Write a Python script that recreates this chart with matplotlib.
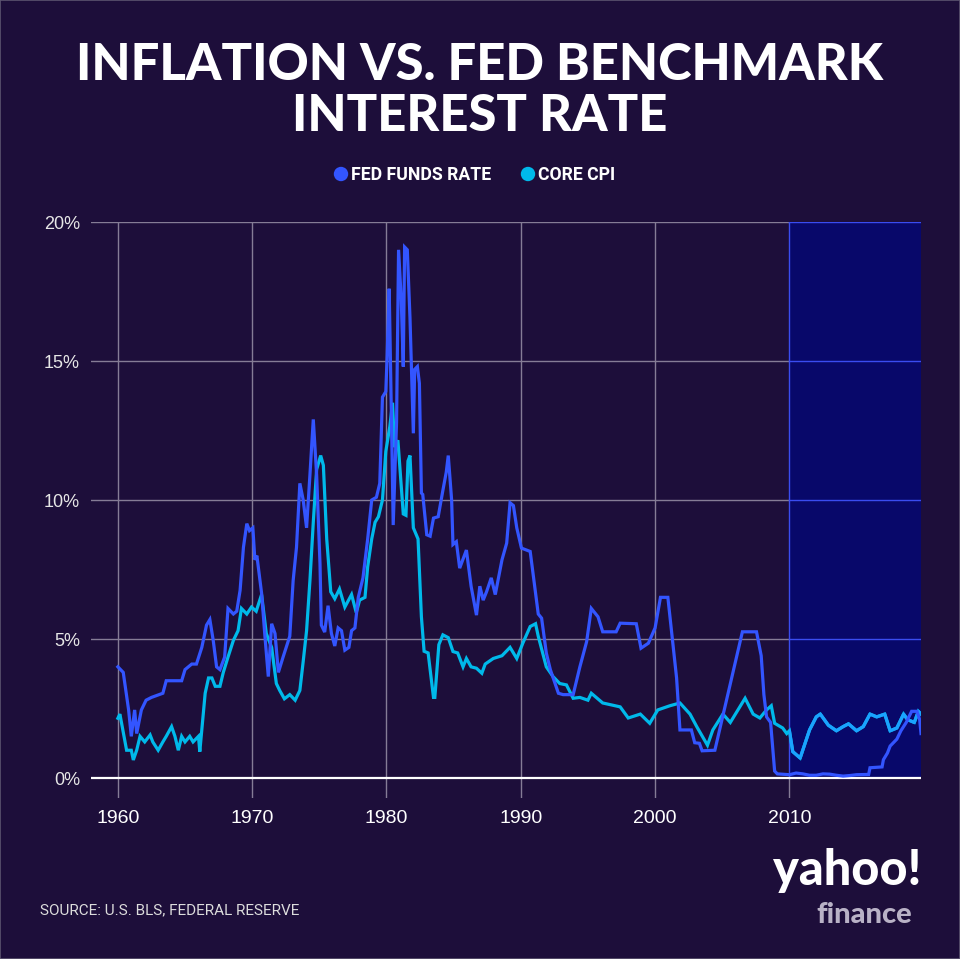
import numpy as np
import matplotlib.pyplot as plt
from matplotlib.patches import Rectangle, Circle

# values (year, percent)
fed_years = [1960.0, 1960.4, 1960.8, 1961.0, 1961.25, 1961.4, 1961.75, 1962.1, 1962.5, 1963.35,
             1963.6, 1964.75, 1965.0, 1965.5, 1965.85, 1966.25, 1966.6, 1966.85, 1967.1, 1967.35,
             1967.6, 1967.95, 1968.2, 1968.6, 1968.85, 1969.1, 1969.35, 1969.6, 1969.8, 1970.05,
             1970.2, 1970.35, 1970.7, 1970.95, 1971.2, 1971.45, 1971.7, 1971.95, 1972.3, 1972.8,
             1973.05, 1973.3, 1973.55, 1973.8, 1974.05, 1974.3, 1974.55, 1974.8, 1975.05, 1975.15,
             1975.4, 1975.65, 1975.9, 1976.15, 1976.4, 1976.65, 1976.9, 1977.2, 1977.4, 1977.65,
             1977.9, 1978.25, 1978.6, 1978.9, 1979.25, 1979.5, 1979.7, 1979.95, 1980.05, 1980.2,
             1980.4, 1980.5, 1980.75, 1980.9, 1981.1, 1981.25, 1981.35, 1981.55, 1981.75, 1982.0,
             1982.1, 1982.3, 1982.45, 1982.6, 1982.7, 1983.0, 1983.25, 1983.5, 1983.85, 1984.2,
             1984.45, 1984.6, 1984.85, 1984.95, 1985.2, 1985.45, 1985.95, 1986.3, 1986.7, 1986.95,
             1987.2, 1987.45, 1987.8, 1988.1, 1988.6, 1988.95, 1989.2, 1989.45, 1989.7, 1990.05,
             1990.7, 1990.9, 1991.3, 1991.55, 1991.9, 1992.2, 1992.8, 1993.15, 1993.9, 1994.4,
             1994.9, 1995.25, 1995.75, 1996.1, 1997.1, 1997.4, 1998.6, 1998.95, 1999.5, 2000.0,
             2000.4, 2000.95, 2001.6, 2001.85, 2002.7, 2002.95, 2003.3, 2003.5, 2004.45, 2006.5,
             2007.55, 2007.9, 2008.1, 2008.3, 2008.6, 2008.9, 2009.1, 2010.0, 2010.5, 2011.0,
             2011.5, 2012.0, 2012.5, 2013.0, 2013.5, 2014.0, 2014.5, 2015.0, 2015.9, 2016.0,
             2016.9, 2017.0, 2017.3, 2017.5, 2018.0, 2018.3, 2018.7, 2019.1, 2019.5, 2019.7, 2019.8]
fed_rate = [4.0, 3.8, 2.45, 1.5, 2.45, 1.6, 2.45, 2.8, 2.9, 3.05,
            3.5, 3.5, 3.9, 4.1, 4.1, 4.7, 5.5, 5.7, 4.95, 4.0,
            3.9, 4.35, 6.1, 5.9, 6.0, 6.75, 8.3, 9.15, 8.9, 9.0,
            7.85, 8.0, 6.65, 5.1, 3.65, 5.55, 5.2, 3.8, 4.35, 5.1,
            7.1, 8.3, 10.6, 10.0, 9.0, 10.9, 12.9, 10.9, 7.7, 5.5,
            5.25, 6.2, 5.2, 4.75, 5.4, 5.3, 4.6, 4.7, 5.3, 5.4,
            6.5, 7.2, 8.6, 10.0, 10.1, 10.6, 13.7, 13.9, 15.2, 17.6,
            12.1, 9.1, 12.8, 19.0, 17.2, 14.8, 19.1, 19.0, 16.55, 12.4,
            14.7, 14.8, 14.2, 10.25, 10.2, 8.75, 8.7, 9.35, 9.4, 10.35,
            11.0, 11.6, 10.0, 8.4, 8.5, 7.55, 8.2, 6.9, 5.86, 6.9,
            6.4, 6.7, 7.2, 6.6, 7.85, 8.45, 9.9, 9.8, 9.0, 8.27,
            8.15, 7.4, 5.9, 5.75, 4.5, 3.9, 3.05, 3.0, 3.0, 4.0,
            4.9, 6.1, 5.8, 5.26, 5.26, 5.57, 5.55, 4.67, 4.85, 5.4,
            6.5, 6.5, 3.6, 1.73, 1.73, 1.27, 1.25, 0.98, 1.0, 5.26,
            5.26, 4.4, 3.0, 2.2, 2.0, 0.25, 0.15, 0.12, 0.18, 0.15,
            0.1, 0.1, 0.15, 0.14, 0.1, 0.07, 0.09, 0.12, 0.13, 0.37,
            0.4, 0.66, 0.9, 1.15, 1.4, 1.7, 2.0, 2.4, 2.4, 2.1, 1.6]

cpi_years = [1960.0, 1960.15, 1960.65, 1961.0, 1961.15, 1961.4, 1961.65, 1962.0, 1962.4, 1962.6,
             1963.0, 1963.35, 1963.6, 1964.0, 1964.25, 1964.5, 1964.75, 1965.0, 1965.35, 1965.6,
             1966.0, 1966.1, 1966.5, 1966.75, 1967.0, 1967.25, 1967.6, 1967.85, 1968.2, 1968.6,
             1968.95, 1969.2, 1969.6, 1969.95, 1970.3, 1970.7, 1971.05, 1971.45, 1971.8, 1972.05,
             1972.4, 1972.8, 1973.2, 1973.55, 1973.8, 1974.05, 1974.3, 1974.55, 1974.8, 1975.1,
             1975.3, 1975.55, 1975.85, 1976.15, 1976.5, 1976.9, 1977.4, 1977.75, 1978.0, 1978.4,
             1978.6, 1978.9, 1979.15, 1979.4, 1979.7, 1979.95, 1980.25, 1980.45, 1980.6, 1980.85,
             1981.25, 1981.45, 1981.6, 1981.75, 1982.0, 1982.35, 1982.6, 1982.8, 1983.1, 1983.5,
             1983.6, 1983.9, 1984.2, 1984.6, 1984.95, 1985.3, 1985.7, 1985.95, 1986.3, 1986.7,
             1987.1, 1987.35, 1987.95, 1988.6, 1989.2, 1989.7, 1990.15, 1990.7, 1991.1, 1991.3,
             1991.9, 1992.4, 1992.9, 1993.4, 1993.9, 1994.4, 1995.0, 1995.25, 1996.1, 1997.4,
             1998.0, 1998.9, 1999.6, 2000.2, 2001.1, 2001.85, 2002.6, 2003.1, 2003.9, 2004.3,
             2005.05, 2005.6, 2006.7, 2007.3, 2007.8, 2008.3, 2008.65, 2008.9, 2009.5, 2009.8,
             2010.0, 2010.25, 2010.8, 2011.5, 2012.0, 2012.3, 2012.9, 2013.5, 2014.0, 2014.4,
             2015.0, 2015.5, 2016.0, 2016.5, 2017.1, 2017.5, 2018.0, 2018.5, 2018.8, 2019.3,
             2019.6, 2019.8]
cpi_rate = [2.15, 2.3, 1.0, 1.0, 0.65, 1.0, 1.5, 1.3, 1.55, 1.3,
            1.0, 1.3, 1.5, 1.85, 1.5, 1.0, 1.5, 1.3, 1.5, 1.3,
            1.5, 0.95, 3.05, 3.6, 3.6, 3.3, 3.3, 3.8, 4.35, 4.95,
            5.3, 6.1, 5.9, 6.15, 6.0, 6.6, 5.2, 4.7, 3.4, 3.15,
            2.85, 3.0, 2.8, 3.15, 4.2, 5.3, 7.1, 9.2, 11.1, 11.6,
            11.25, 8.6, 6.7, 6.45, 6.8, 6.15, 6.6, 5.95, 6.4, 6.5,
            7.6, 8.6, 9.2, 9.4, 10.0, 11.75, 12.65, 13.5, 11.9, 12.15,
            9.5, 9.45, 11.4, 11.6, 9.0, 8.6, 5.8, 4.56, 4.5, 2.9,
            2.9, 4.8, 5.15, 5.05, 4.55, 4.5, 4.0, 4.3, 4.0, 3.95,
            3.77, 4.1, 4.3, 4.4, 4.7, 4.3, 4.85, 5.45, 5.55, 5.1,
            4.0, 3.65, 3.4, 3.35, 2.87, 2.9, 2.8, 3.05, 2.7, 2.56,
            2.16, 2.3, 1.97, 2.45, 2.6, 2.7, 2.3, 1.85, 1.18, 1.73,
            2.3, 2.0, 2.87, 2.3, 2.16, 2.45, 2.6, 1.97, 1.8, 1.6,
            1.7, 0.95, 0.72, 1.73, 2.2, 2.3, 1.9, 1.7, 1.85, 1.95,
            1.7, 1.85, 2.3, 2.2, 2.3, 1.7, 1.8, 2.3, 2.1, 2.0,
            2.4, 2.3]

x_ticks = [1960, 1970, 1980, 1990, 2000, 2010]
y_ticks = [0, 5, 10, 15, 20]
highlight_start = 2010

BG = '#1d0e3a'
NAVY = '#08086a'
GRID = '#857c96'
GRID_HI = '#3a4cf0'
FED_C = '#3355ff'
CPI_C = '#00b9ea'
CPI_HI = '#1aa3ff'

fig = plt.figure(figsize=(9.6, 9.59), dpi=100, facecolor=BG)
ax = fig.add_axes([0.0948, 0.1684, 0.8646, 0.6001])
ax.set_facecolor(BG)
x0, x1 = 1958, 2019.8
ax.set_xlim(x0, x1)
ax.set_ylim(-0.7, 20)
for s in ax.spines.values():
    s.set_visible(False)

# grid
for y in y_ticks[1:]:
    ax.plot([x0, highlight_start], [y, y], color=GRID, lw=1, zorder=1)
for x in x_ticks[:-1]:
    ax.plot([x, x], [-0.7, 20], color=GRID, lw=1, zorder=1)
ax.plot([highlight_start]*2, [-0.7, 0], color=GRID, lw=1, zorder=1)

hi = Rectangle((highlight_start, 0), x1 - highlight_start, 20, facecolor=NAVY,
               edgecolor='none', zorder=2)
ax.add_patch(hi)
for y in y_ticks[1:]:
    ax.plot([highlight_start, x1], [y, y], color=GRID_HI, lw=1, zorder=3)
ax.plot([highlight_start]*2, [0, 20], color=GRID_HI, lw=1, zorder=3)
ax.axhline(0, color='white', lw=1.6, zorder=3)

ax.plot(fed_years, fed_rate, color=FED_C, lw=2.3, zorder=5, solid_joinstyle='miter')
ax.plot(cpi_years, cpi_rate, color=CPI_C, lw=2.3, zorder=4, solid_joinstyle='miter')
l2, = ax.plot(cpi_years, cpi_rate, color=CPI_HI, lw=2.3, zorder=4.5)
l2.set_clip_path(hi)

ax.set_xticks(x_ticks)
ax.set_xticklabels([str(x) for x in x_ticks], fontsize=14, color='white',
                   family='Liberation Sans')
ax.set_yticks(y_ticks)
ax.set_yticklabels([f'{y}%' for y in y_ticks], fontsize=13, color='#e6e6e6',
                   family='Liberation Sans')
ax.tick_params(length=0, pad=9)
ax.tick_params(axis='y', pad=8)

# title
fig.text(0.5, 0.905, 'INFLATION VS. FED BENCHMARK\nINTEREST RATE', ha='center', va='center',
         color='white', fontsize=36.5, fontweight='black', family=['Lato', 'DejaVu Sans'],
         linespacing=1.12)

# legend
fig.patches.append(Circle((341/960, 1 - 174/959), 0.0075, transform=fig.transFigure,
                          facecolor=FED_C, edgecolor='none'))
fig.text(351/960, 1 - 175/959, 'FED FUNDS RATE', ha='left', va='center', color='white',
         fontsize=12.7, fontweight='bold', family=['Roboto', 'DejaVu Sans'])
fig.patches.append(Circle((528/960, 1 - 174/959), 0.0075, transform=fig.transFigure,
                          facecolor=CPI_C, edgecolor='none'))
fig.text(538/960, 1 - 175/959, 'CORE CPI', ha='left', va='center', color='white',
         fontsize=12.7, fontweight='bold', family=['Roboto', 'DejaVu Sans'])

# source + logo
fig.text(40/960, 1 - 910/959, 'SOURCE: U.S. BLS, FEDERAL RESERVE', ha='left', va='center',
         color='#dcdcdc', fontsize=11, family=['Roboto', 'DejaVu Sans'])
fig.text(921/960, 1 - 885/959, 'yahoo!', ha='right', va='baseline', color='white',
         fontsize=35, fontweight='black', family=['Lato', 'DejaVu Sans'])
fig.text(912/960, 1 - 923/959, 'finance', ha='right', va='baseline', color='#b9b2c6',
         fontsize=21, fontweight='black', family=['Lato', 'DejaVu Sans'])

fig.patches.append(Rectangle((0, 0), 1, 1, transform=fig.transFigure, fill=False,
                             edgecolor='#5c5470', lw=1.2))

fig.savefig('out.png', dpi=100, facecolor=BG)
